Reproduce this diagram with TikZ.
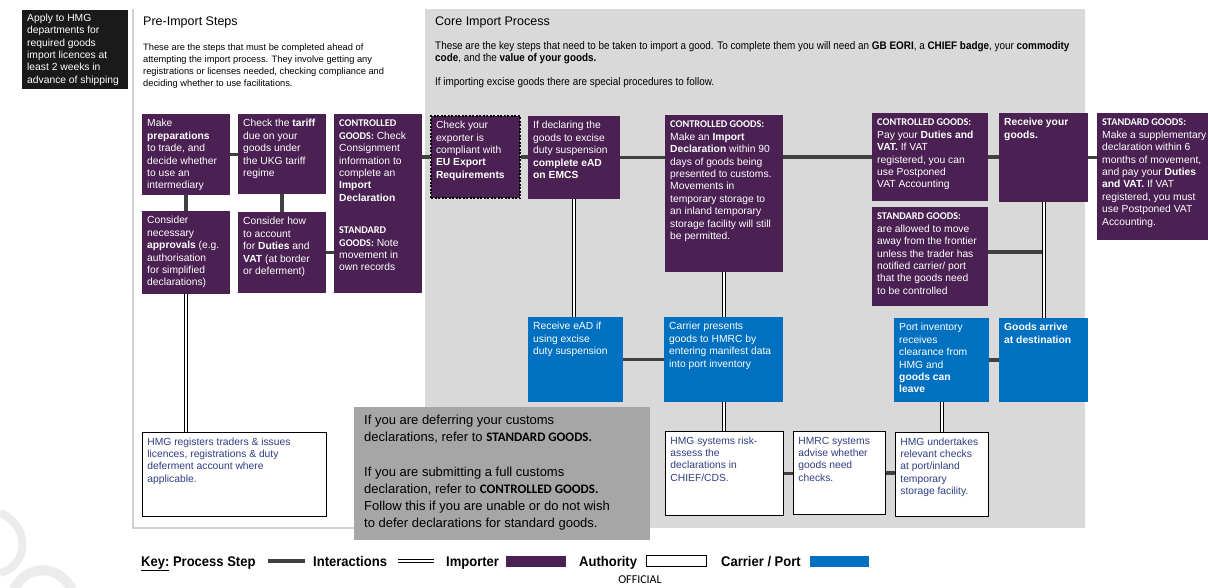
\documentclass[tikz,border=0pt]{standalone}
\usepackage{fontspec}
\setmainfont{Liberation Sans}
\newfontfamily\calfont{Carlito}
\newfontfamily\narrowfont[FakeStretch=0.9]{Liberation Sans}
\newfontfamily\keyfont[FakeStretch=0.93]{Liberation Sans}
\usetikzlibrary{positioning}

\definecolor{importer}{RGB}{74,33,82}
\definecolor{carrier}{RGB}{0,112,192}
\definecolor{corebg}{RGB}{217,217,217}
\definecolor{notebg}{RGB}{166,166,166}
\definecolor{stepcol}{RGB}{64,64,64}
\definecolor{authtext}{RGB}{47,62,132}
\definecolor{applybg}{RGB}{26,26,26}

% text block: width, height, lines
\newcommand{\tb}[3]{\makebox[#1][l]{\begin{minipage}[t][#2][t]{300pt}\raggedright\strut #3\end{minipage}}}
\newcommand{\cg}[1]{{\calfont\bfseries #1}}

\begin{document}
\begin{tikzpicture}[x=1pt, y=-1pt, font=\fontsize{10.3}{12.4}\selectfont,
    box/.style={anchor=north west, inner xsep=5pt, inner ysep=4pt},
    imp/.style={box, fill=importer, text=white},
    car/.style={box, fill=carrier, text=white},
    auth/.style={box, draw=black, line width=0.8pt, fill=white, text=authtext},
    stepline/.style={draw=stepcol, line width=3.5pt},
    link/.style={draw=black, double=white, line width=1.1pt, double distance=1.6pt},
    keytxt/.style={anchor=base west, inner sep=0pt, font=\keyfont\bfseries\fontsize{14}{16}\selectfont}]

\useasboundingbox (0,0) rectangle (1208,587);
%\draw[step=50,color=gray!80] (0,0) grid (1208,587);

\draw[gray!15, line width=8pt] (0,513) .. controls (30,525) and (30,565) .. (0,573);
\draw[gray!15, line width=10pt] (13,592) .. controls (25,563) and (60,563) .. (73,592);

\fill[corebg] (425,9) rectangle (1085,528);
\draw[gray!35, line width=1.5pt] (133,9) -- (133,528) -- (425,528);

\node[box, fill=applybg, text=white, inner ysep=2.5pt] (apply) at (22,10)
    {\tb{96pt}{74pt}{Apply to HMG\\departments for\\required goods\\import licences at\\least 2 weeks in\\advance of shipping}};

\node[anchor=north west, inner sep=0pt, font=\fontsize{12.5}{14}\selectfont] (pretitle) at (143,17) {Pre-Import Steps};
\node[anchor=north west, inner sep=0pt, align=left, font=\fontsize{9.3}{12}\selectfont] (pretext) at (143,44)
    {These are the steps that must be completed ahead of\\attempting the import process. They involve getting any\\registrations or licenses needed, checking compliance and\\deciding whether to use facilitations.};

\node[anchor=north west, inner sep=0pt, font=\fontsize{12.5}{14}\selectfont] (coretitle) at (435,17) {Core Import Process};
\node[anchor=north west, inner sep=0pt, align=left, font=\narrowfont\fontsize{11}{12}\selectfont] (coretext) at (435,41.5)
    {These are the key steps that need to be taken to import a good. To complete them you will need an \textbf{GB EORI}, a \textbf{CHIEF badge}, your \textbf{commodity}\\\textbf{code}, and the \textbf{value of your goods.}\\[12pt]If importing excise goods there are special procedures to follow.};

% pre-import steps
\node[imp] (P1) at (142,114) {\tb{78pt}{73pt}{Make\\\textbf{preparations}\\to trade, and\\decide whether\\to use an\\intermediary}};
\node[imp] (P2) at (238,114) {\tb{78pt}{72pt}{Check the \textbf{tariff}\\due on your\\goods under\\the UKG tariff\\regime}};
\node[imp] (P3) at (334,114) {\tb{78pt}{171pt}{\cg{CONTROLLED}\\\cg{GOODS:} Check\\Consignment\\information to\\complete an\\\textbf{Import}\\\textbf{Declaration}\\[20pt]\cg{STANDARD}\\\cg{GOODS:} Note\\movement in\\own records}};
\node[imp] (P4) at (142,211) {\tb{78pt}{75pt}{Consider\\necessary\\\textbf{approvals} (e.g.\\authorisation\\for simplified\\declarations)}};
\node[imp] (P5) at (238,212) {\tb{78pt}{73pt}{Consider how\\to account\\for \textbf{Duties} and\\\textbf{VAT} (at border\\or deferment)}};
\node[auth] (H1) at (142,432) {\tb{174pt}{76pt}{HMG registers traders \& issues\\licences, registrations \& duty\\deferment account where\\applicable.}};

% core import process
\node[imp, draw=black, line width=2pt, dash pattern=on 2pt off 1.5pt] (C1) at (430,115) {\tb{79pt}{74pt}{Check your\\exporter is\\compliant with\\\textbf{EU Export}\\\textbf{Requirements}}};
\node[imp] (C2) at (528,116) {\tb{82pt}{75pt}{If declaring the\\goods to excise\\duty suspension\\\textbf{complete eAD}\\\textbf{on EMCS}}};
\node[imp] (C3) at (665,115) {\tb{108pt}{149pt}{\cg{CONTROLLED GOODS:}\\Make an \textbf{Import}\\\textbf{Declaration} within 90\\days of goods being\\presented to customs.\\Movements in\\temporary storage to\\an inland temporary\\storage facility will still\\be permitted.}};
\node[imp] (C4) at (872,113) {\tb{106pt}{80pt}{\cg{CONTROLLED GOODS:}\\Pay your \textbf{Duties and}\\\textbf{VAT.} If VAT\\registered, you can\\use Postponed\\VAT Accounting}};
\node[imp] (C5) at (999,113) {\tb{79pt}{81pt}{\textbf{Receive your}\\\textbf{goods.}}};
\node[imp] (C6) at (872,207) {\tb{106pt}{91pt}{\cg{STANDARD GOODS:}\\are allowed to move\\away from the frontier\\unless the trader has\\notified carrier/ port\\that the goods need\\to be controlled}};
\node[imp] (C7) at (1097,113) {\tb{115pt}{119pt}{\cg{STANDARD GOODS:}\\Make a supplementary\\declaration within 6\\months of movement,\\and pay your \textbf{Duties}\\\textbf{and VAT.} If VAT\\registered, you must\\use Postponed VAT\\Accounting.}};

\node[car] (B1) at (528,317) {\tb{85pt}{77pt}{Receive eAD if\\using excise\\duty suspension}};
\node[car] (B2) at (664,317) {\tb{109pt}{77pt}{Carrier presents\\goods to HMRC by\\entering manifest data\\into port inventory}};
\node[car] (B3) at (894,318) {\tb{85pt}{76pt}{Port inventory\\receives\\clearance from\\HMG and\\\textbf{goods can}\\\textbf{leave}}};
\node[car] (B4) at (999,318) {\tb{79pt}{76pt}{\textbf{Goods arrive}\\\textbf{at destination}}};

\node[auth] (A1) at (665,431) {\tb{108pt}{76pt}{HMG systems risk-\\assess the\\declarations in\\CHIEF/CDS.}};
\node[auth] (A2) at (793,431) {\tb{82pt}{75pt}{HMRC systems\\advise whether\\goods need\\checks.}};
\node[auth] (A3) at (895,432) {\tb{83pt}{76pt}{HMG undertakes\\relevant checks\\at port/inland\\temporary\\storage facility.}};

% process steps
\draw[stepline] (P1.east) -- (P1.east -| P2.west);
\draw[stepline] (P5.east) -- (P5.east -| P3.west);
\draw[stepline] (P1.south) -- (P1.south |- P4.north);
\draw[stepline] (P2.south) -- (P2.south |- P5.north);
\draw[stepline] (P3.east |- C1.west) -- (C1.west);
\foreach \a/\b in {C1/C2, C2/C3, C4/C5, C5/C7, B1/B2, B3/B4, A1/A2, A2/A3}
    \draw[stepline] (\a.east) -- (\a.east -| \b.west);
\draw[stepline] (C3.east |- C4.west) -- (C4.west);
\draw[stepline] (C6.east |- 0,252) -- (C5.south |- 0,252);

% interactions
\draw[link] (P4.south) -- (P4.south |- H1.north);
\draw[link] (C2.south) -- (C2.south |- B1.north);
\draw[link] (C3.south) -- (C3.south |- B2.north);
\draw[link] (B2.south) -- (B2.south |- A1.north);
\draw[link] (C5.south) -- (C5.south |- B4.north);
\draw[link] (B3.south) -- (B3.south |- A3.north);

\node[box, fill=notebg, text=black, inner xsep=10pt, inner ysep=5pt, font=\fontsize{13}{17.2}\selectfont] (note) at (354,407)
    {\tb{276pt}{123pt}{If you are deferring your customs\\declarations, refer to \cg{STANDARD GOODS.}\\[17.5pt]If you are submitting a full customs\\declaration, refer to \cg{CONTROLLED GOODS.}\\Follow this if you are unable or do not wish\\to defer declarations for standard goods.}};

% key
\node[keytxt] (key) at (141,566) {\underline{Key:} Process Step};
\coordinate (ks1) at (268,561);
\coordinate (ks2) at (305,561);
\draw[stepline] (ks1) -- (ks2);
\node[keytxt] (kint) at (313,566) {Interactions};
\coordinate (kl1) at (398,561);
\coordinate (kl2) at (434,561);
\draw[link] (kl1) -- (kl2);
\node[keytxt] (kimp) at (446,566) {Importer};
\node[anchor=west, fill=importer, minimum width=60pt, minimum height=11pt, inner sep=0pt] (kimpbox) at (506,561) {};
\node[keytxt] (kauth) at (579,566) {Authority};
\node[anchor=west, draw=black, line width=0.8pt, minimum width=60pt, minimum height=11pt, inner sep=0pt] (kauthbox) at (646,561) {};
\node[keytxt] (kcar) at (721,566) {Carrier / Port};
\node[anchor=west, fill=carrier, minimum width=59pt, minimum height=11pt, inner sep=0pt] (kcarbox) at (810,561) {};

\node[font=\calfont\fontsize{12}{14}\selectfont] (official) at (640,580) {OFFICIAL};

\end{tikzpicture}
\end{document}
